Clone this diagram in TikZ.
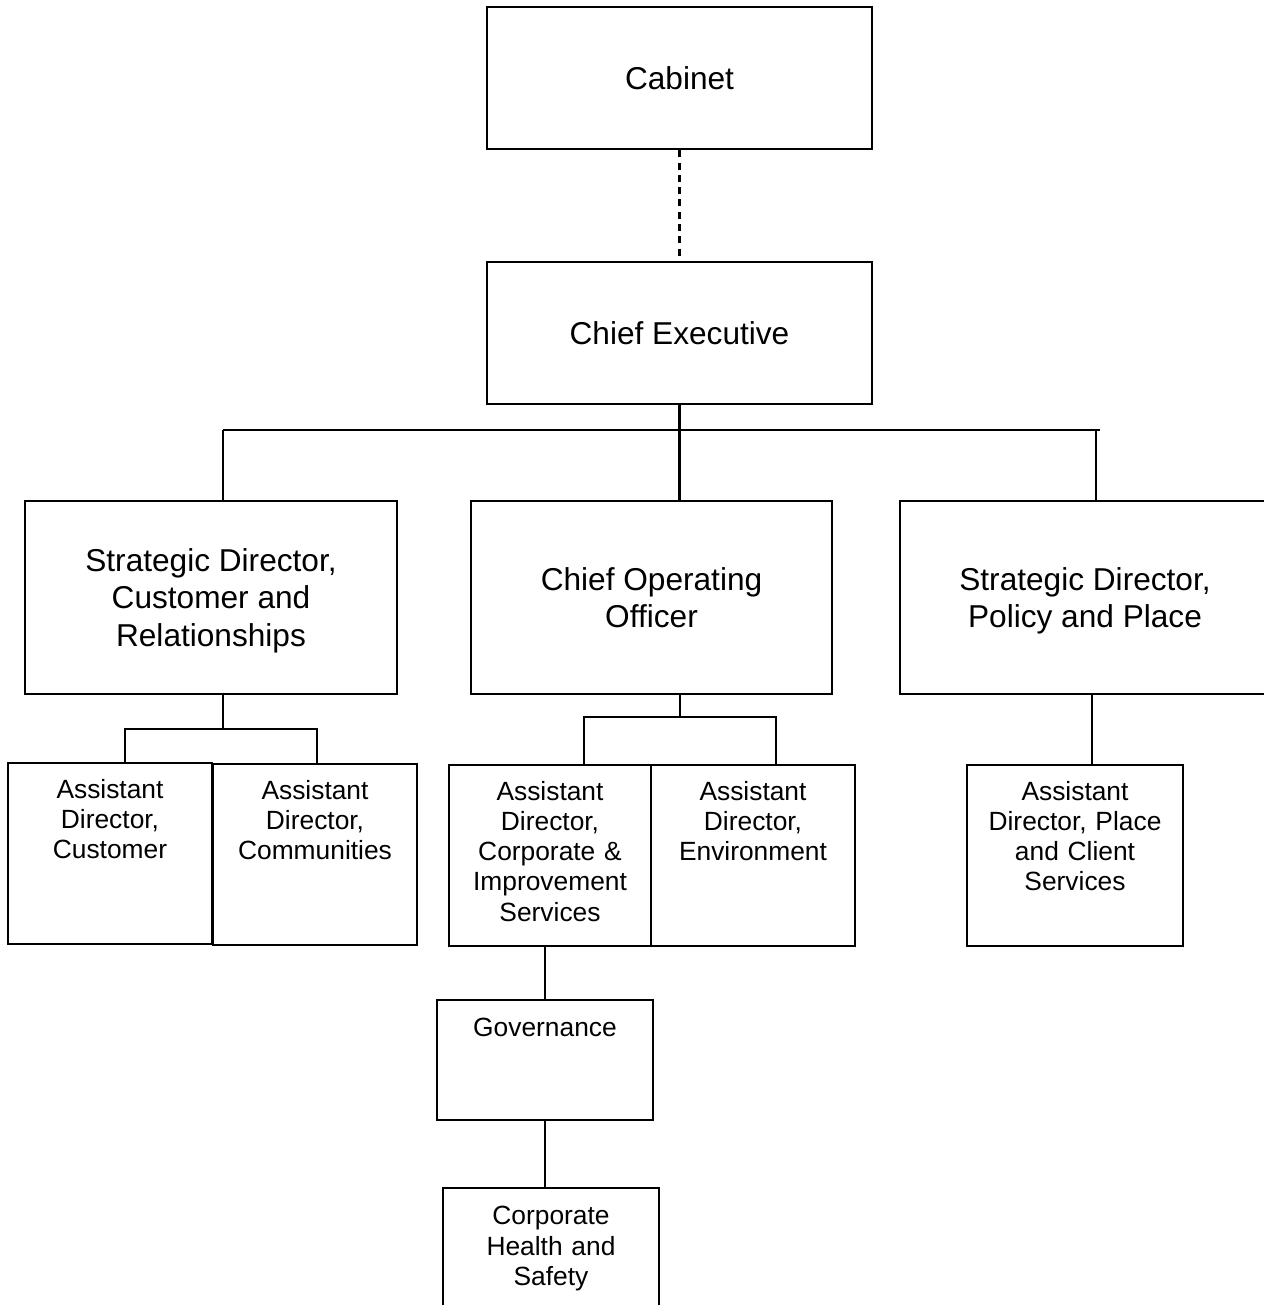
\documentclass[tikz,border=0pt]{standalone}
\usepackage{fontspec}
\setmainfont{Liberation Sans}
\tikzset{
  chart/.style={draw, line width=1.4pt},
  big box/.style={chart, minimum width=#1, minimum height=38.6mm,
                  align=center, font=\fontsize{18}{21.2}\selectfont},
  ad box/.style={chart, inner sep=0pt, text width=#1, align=center,
                 font=\fontsize{15}{17.2}\selectfont,
                 text height=20pt, text depth=83pt},
  link/.style={line width=1.4pt}
}

\begin{document}
\begin{tikzpicture}[x=0.02cm, y=-0.02cm]
\useasboundingbox (0,0) rectangle (1264,1305);
\fill[white] (0,0) rectangle (1264,1305);
\clip (0,0) rectangle (1264,1305);

% top of the chart
\node[big box=77mm, minimum height=28.4mm] (cab) at (679.5,78) {Cabinet};
\node[big box=77mm, minimum height=28.4mm] (ce)  at (679.5,333) {Chief Executive};

\node[big box=74.4mm, text depth=0pt] (sdc) at (211,597.5)
     {Strategic Director,\\Customer and\\Relationships};
\node[big box=72.2mm] (coo) at (651.5,597.5) {Chief Operating\\Officer};
\node[big box=74mm, text depth=0pt]   (spp) at (1085,597.5)
     {Strategic Director,\\Policy and Place};

% assistant directors
\node[ad box=40.8mm] (adcu) at (110,853.5) {Assistant\\Director,\\Customer};
\node[ad box=40.8mm] (adco) at (315,854.5) {Assistant\\Director,\\Communities};
\node[ad box=40.4mm] (adci) at (550,855.5)
     {Assistant\\Director,\\Corporate \&\\Improvement\\Services};
\node[ad box=40.8mm] (aden) at (753,855.5) {Assistant\\Director,\\Environment};
\node[ad box=43.2mm] (adpl) at (1075,855.5)
     {Assistant\\Director, Place\\and Client\\Services};

\node[ad box=43.2mm, text height=20.5pt, text depth=47.8pt]
     (gov) at (545,1060) {Governance};
\node[ad box=43.2mm, text height=21pt, text depth=48.4pt]
     (chs) at (551,1249) {Corporate\\Health and\\Safety};

% the joints
\coordinate (dropL) at (223,430);
\coordinate (dropR) at (1096,430);
\coordinate (barR)  at (1100,430);
\coordinate (hL1)   at (125,729);
\coordinate (jL)    at (223,729);
\coordinate (hL2)   at (317,729);
\coordinate (hM1)   at (584,717);
\coordinate (jM)    at (680,717);
\coordinate (hM2)   at (776,717);
\coordinate (jR)    at (1092,730);

\draw[link, dash pattern=on 4pt off 3pt] (cab) -- (ce);
\draw[link] (ce.south) -- (ce.south |- coo.north);
\draw[link] (dropL) -- (barR);
\draw[link] (dropL) -- (dropL |- sdc.north);
\draw[link] (dropR) -- (dropR |- spp.north);

\draw[link] (jL |- sdc.south) -- (jL);
\draw[link] (hL1 |- adcu.north) -- (hL1) -- (hL2) -- (hL2 |- adco.north);

\draw[link] (jM |- coo.south) -- (jM);
\draw[link] (hM1 |- adci.north) -- (hM1) -- (hM2) -- (hM2 |- aden.north);

\draw[link] (jR |- spp.south) -- (jR |- adpl.north);

\draw[link] (gov.north |- adci.south) -- (gov.north);
\draw[link] (chs.north -| gov.south) -- (gov.south);
\end{tikzpicture}
\end{document}
